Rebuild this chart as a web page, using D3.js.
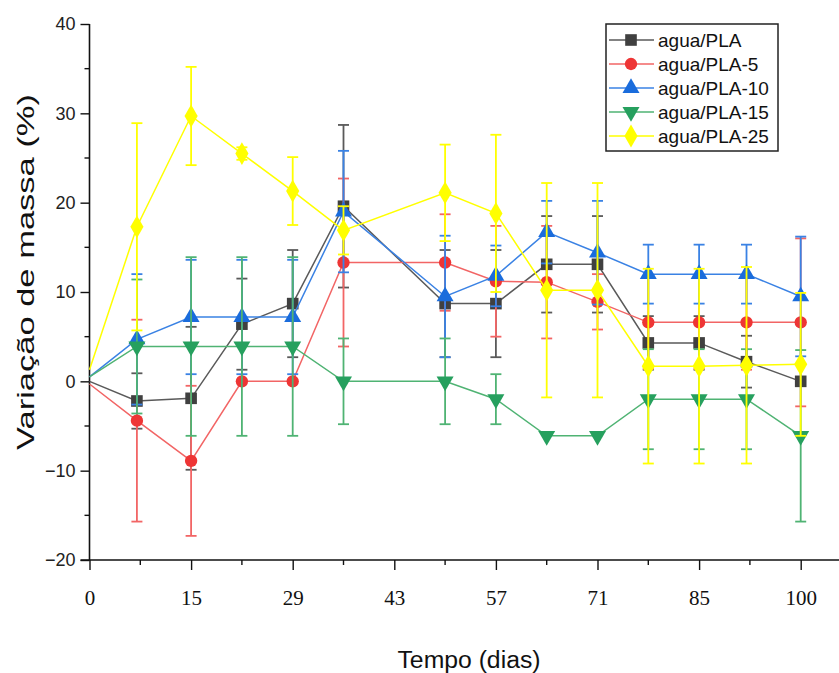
<!DOCTYPE html>
<html>
<head>
<meta charset="utf-8">
<script src="https://cdn.jsdelivr.net/npm/d3@7"></script>
<style>
  html, body { margin: 0; padding: 0; background: #fff; }
  svg { display: block; }
</style>
</head>
<body>
<svg id="chart" width="839" height="673"></svg>
<script>
// Sampling days and axis tick labels
const days = [0, 7, 15, 22, 29, 36, 50, 57, 64, 71, 78, 85, 92, 100];
const xTickDays = [0, 15, 29, 43, 57, 71, 85, 100];
const yTicks = [-20, -10, 0, 10, 20, 30, 40];

const seriesNames = ["agua/PLA", "agua/PLA-5", "agua/PLA-10", "agua/PLA-15", "agua/PLA-25"];

// Mass variation (%) per day, and the standard deviation of each reading
const aguaPLA     = [0.0, -2.2, -1.9, 6.4, 8.7, 19.6, 8.7, 8.7, 13.1, 13.1, 4.3, 4.3, 2.2, 0.0];
const aguaPLA_err = [0, 3.1, 8.0, 5.1, 6.0, 9.1, 6.0, 6.0, 5.4, 5.4, 3.0, 3.0, 2.9, 0];

const aguaPLA5     = [-0.3, -4.4, -8.9, 0.0, 0.0, 13.3, 13.3, 11.2, 11.1, 8.9, 6.6, 6.6, 6.6, 6.6];
const aguaPLA5_err = [0, 11.3, 8.4, 0, 0, 9.4, 5.4, 6.2, 6.3, 3.1, 5.2, 5.2, 5.3, 9.4];

const aguaPLA10     = [0.5, 4.7, 7.2, 7.2, 7.2, 19.0, 9.5, 11.8, 16.7, 14.4, 12.0, 12.0, 12.0, 9.5];
const aguaPLA10_err = [0, 7.3, 6.4, 6.4, 6.4, 6.8, 6.8, 3.4, 3.5, 5.8, 3.3, 3.3, 3.3, 6.7];

const aguaPLA15     = [0.5, 3.9, 3.9, 3.9, 3.9, 0.0, 0.0, -2.0, -6.1, -6.1, -2.0, -2.0, -2.0, -6.1];
const aguaPLA15_err = [0, 7.5, 10.0, 10.0, 10.0, 4.8, 4.8, 2.8, 0, 0, 5.6, 5.6, 5.6, 9.6];

const aguaPLA25     = [1.3, 17.3, 29.7, 25.5, 21.3, 16.9, 21.1, 18.8, 10.2, 10.2, 1.7, 1.7, 1.8, 1.9];
const aguaPLA25_err = [0, 11.6, 5.5, 0.7, 3.8, 2.7, 5.4, 8.8, 12.0, 12.0, 10.9, 10.9, 11.0, 8.0];

const values = [aguaPLA, aguaPLA5, aguaPLA10, aguaPLA15, aguaPLA25];
const errors = [aguaPLA_err, aguaPLA5_err, aguaPLA10_err, aguaPLA15_err, aguaPLA25_err];

const lineColors   = ["#5a5a5a", "#f26565", "#3a82e4", "#4fb373", "#ffff00"];
const markerColors = ["#404040", "#ee3535", "#1a6cdc", "#26a05e", "#ffff00"];
const markerShapes = [d3.symbolSquare, d3.symbolCircle, d3.symbolTriangle, d3.symbolTriangle, d3.symbolDiamond];
const markerSizes  = [135, 120, 125, 125, 150];
const markerRotate = [0, 0, 0, 180, 0];

const svg = d3.select("#chart");

const plotLeft = 89.5, axisY = 560, plotTop = 24, step = 101.6;

// Major x ticks are evenly spaced even though the day labels are not,
// so the scale is piecewise linear between the labelled days.
const x = d3.scaleLinear()
  .domain(xTickDays)
  .range(xTickDays.map((d, i) => plotLeft + i * step));

const y = d3.scaleLinear().domain([-20, 40]).range([axisY, plotTop]);

// ---- axes ----
const axisG = svg.append("g").attr("class", "axes");

// y axis
const yAxis = d3.axisLeft(y).tickValues(yTicks).tickSize(9).tickPadding(5).tickFormat(d3.format("d"));
const gy = axisG.append("g").attr("transform", `translate(${plotLeft},0)`).call(yAxis);
gy.select(".domain").remove();
gy.selectAll(".tick line").attr("stroke", "#111").attr("stroke-width", 1.4);
gy.selectAll(".tick text")
  .attr("fill", "#222")
  .style("font-family", "'Liberation Sans', Arial, sans-serif")
  .style("font-size", "18px");

// y minor ticks
const yMinor = d3.range(-15, 40, 10);
axisG.append("g").selectAll("line").data(yMinor).join("line")
  .attr("x1", plotLeft - 5).attr("x2", plotLeft)
  .attr("y1", d => y(d)).attr("y2", d => y(d))
  .attr("stroke", "#111").attr("stroke-width", 1.4);

// x axis
const xAxis = d3.axisBottom(x).tickValues(xTickDays).tickSize(10).tickPadding(20).tickFormat(d => d);
const gx = axisG.append("g").attr("transform", `translate(0,${axisY})`).call(xAxis);
gx.select(".domain").remove();
gx.selectAll(".tick line").attr("stroke", "#111").attr("stroke-width", 1.4);
gx.selectAll(".tick text")
  .attr("fill", "#111")
  .style("font-family", "'Liberation Serif', 'Times New Roman', serif")
  .style("font-size", "21px");

// x minor ticks midway between labelled positions
const xMinorPx = d3.pairs(xTickDays).map(([a, b]) => (x(a) + x(b)) / 2);
axisG.append("g").selectAll("line").data(xMinorPx).join("line")
  .attr("x1", d => d).attr("x2", d => d)
  .attr("y1", axisY).attr("y2", axisY + 5)
  .attr("stroke", "#111").attr("stroke-width", 1.4);

// axis lines
axisG.append("line")
  .attr("x1", plotLeft).attr("x2", plotLeft).attr("y1", plotTop).attr("y2", axisY)
  .attr("stroke", "#111").attr("stroke-width", 1.6);
axisG.append("line")
  .attr("x1", plotLeft - 9).attr("x2", 839).attr("y1", axisY).attr("y2", axisY)
  .attr("stroke", "#111").attr("stroke-width", 1.6);

// axis titles
svg.append("text")
  .attr("x", 469).attr("y", 668)
  .attr("text-anchor", "middle")
  .attr("fill", "#111")
  .attr("textLength", 143)
  .attr("lengthAdjust", "spacingAndGlyphs")
  .style("font-family", "'Liberation Sans', Arial, sans-serif")
  .style("font-size", "23px")
  .text("Tempo (dias)");

svg.append("text")
  .attr("transform", "translate(34,272) rotate(-90)")
  .attr("text-anchor", "middle")
  .attr("fill", "#111")
  .attr("textLength", 356)
  .attr("lengthAdjust", "spacingAndGlyphs")
  .style("font-family", "'Liberation Sans', Arial, sans-serif")
  .style("font-size", "24px")
  .text("Variação de massa (%)");

// ---- series ----
const line = d3.line().x(d => x(d.day)).y(d => y(d.v));
const capHalf = 5.5;

values.forEach((vals, s) => {
  const pts = days.map((day, i) => ({ day, v: vals[i], e: errors[s][i] }));
  const g = svg.append("g").attr("class", "series");

  // error bars
  const eb = g.append("g").selectAll("g").data(pts.filter(p => p.e > 0)).join("g");
  eb.append("line")
    .attr("x1", p => x(p.day)).attr("x2", p => x(p.day))
    .attr("y1", p => y(p.v + p.e)).attr("y2", p => y(p.v - p.e))
    .attr("stroke", lineColors[s]).attr("stroke-width", 1.8);
  [1, -1].forEach(sign => {
    eb.append("line")
      .attr("x1", p => x(p.day) - capHalf).attr("x2", p => x(p.day) + capHalf)
      .attr("y1", p => y(p.v + sign * p.e)).attr("y2", p => y(p.v + sign * p.e))
      .attr("stroke", lineColors[s]).attr("stroke-width", 1.8);
  });

  // connecting line (starts at the day-0 reference on the axis)
  g.append("path").datum(pts)
    .attr("d", line)
    .attr("fill", "none")
    .attr("stroke", lineColors[s])
    .attr("stroke-width", 1.5);

  // markers for the measured days after day 0
  const sym = d3.symbol().type(markerShapes[s]).size(markerSizes[s]);
  g.append("g").selectAll("path").data(pts.filter(p => p.day > 0)).join("path")
    .attr("d", sym)
    .attr("transform", p => `translate(${x(p.day)},${y(p.v)}) rotate(${markerRotate[s]})`)
    .attr("fill", markerColors[s]);
});

// ---- legend ----
const lg = svg.append("g").attr("transform", "translate(606,24)");
lg.append("rect")
  .attr("x", 0).attr("y", 0).attr("width", 172).attr("height", 127)
  .attr("fill", "#fff").attr("stroke", "#222").attr("stroke-width", 1.5);

seriesNames.forEach((name, s) => {
  const cy = 16 + s * 24;
  const row = lg.append("g").attr("transform", `translate(0,${cy})`);
  row.append("line")
    .attr("x1", 3).attr("x2", 48).attr("y1", 0).attr("y2", 0)
    .attr("stroke", lineColors[s]).attr("stroke-width", 1.5);
  row.append("path")
    .attr("d", d3.symbol().type(markerShapes[s]).size(markerSizes[s]))
    .attr("transform", `translate(25,0) rotate(${markerRotate[s]})`)
    .attr("fill", markerColors[s]);
  row.append("text")
    .attr("x", 52).attr("y", 0).attr("dy", "0.35em")
    .attr("fill", "#111")
    .style("font-family", "'Liberation Sans', Arial, sans-serif")
    .style("font-size", "19px")
    .text(name);
});
</script>
</body>
</html>
